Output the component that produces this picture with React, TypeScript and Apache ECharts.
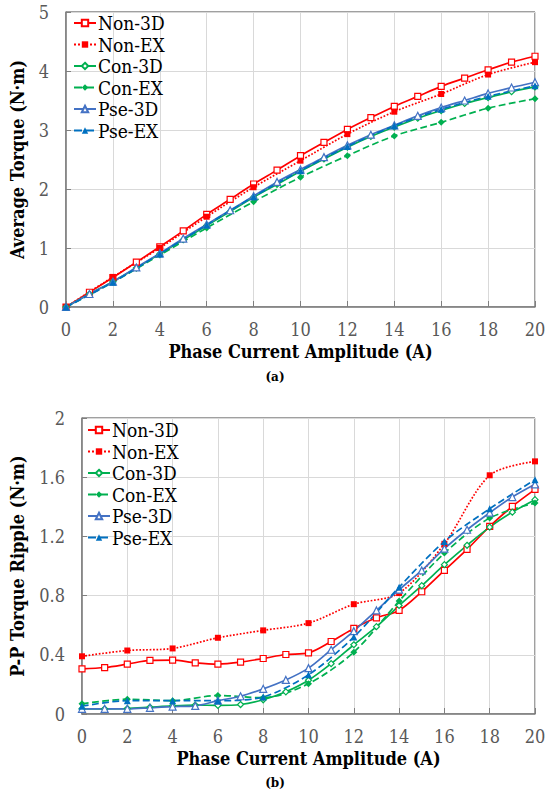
import React, { useEffect, useRef } from "react";
import * as echarts from "echarts";

// ---------- data ----------
const xAll = [0, 1, 2, 3, 4, 5, 6, 7, 8, 9, 10, 11, 12, 13, 14, 15, 16, 17, 18, 19, 20];
const xEven = [0, 2, 4, 6, 8, 10, 12, 14, 16, 18, 20];
const seriesNames = ["Non-3D", "Non-EX", "Con-3D", "Con-EX", "Pse-3D", "Pse-EX"];

// (a) Average torque (N·m)
const avgNon3D = [0, 0.25, 0.5, 0.76, 1.02, 1.29, 1.57, 1.825, 2.085, 2.32, 2.565, 2.79, 3.01, 3.21, 3.40, 3.57, 3.74, 3.88, 4.02, 4.15, 4.25];
const avgNonEX = [0, 0.51, 1.0, 1.53, 2.03, 2.48, 2.93, 3.31, 3.61, 3.94, 4.15];
const avgCon3D = [0, 0.22, 0.43, 0.66, 0.9, 1.14, 1.38, 1.62, 1.86, 2.08, 2.3, 2.51, 2.71, 2.89, 3.05, 3.2, 3.33, 3.45, 3.55, 3.65, 3.73];
const avgConEX = [0, 0.42, 0.88, 1.34, 1.785, 2.2, 2.565, 2.9, 3.13, 3.37, 3.53];
const avgPse3D = [0, 0.22, 0.43, 0.67, 0.91, 1.16, 1.4, 1.64, 1.88, 2.12, 2.33, 2.54, 2.74, 2.92, 3.08, 3.24, 3.38, 3.5, 3.62, 3.72, 3.81];
const avgPseEX = [0, 0.42, 0.9, 1.39, 1.87, 2.31, 2.72, 3.07, 3.35, 3.57, 3.75];

// (b) P-P torque ripple (N·m)
const ripNon3D = [0.305, 0.314, 0.337, 0.362, 0.364, 0.346, 0.337, 0.35, 0.375, 0.402, 0.413, 0.49, 0.578, 0.65, 0.70, 0.826, 0.97, 1.112, 1.268, 1.403, 1.518];
const ripNonEX = [0.39, 0.429, 0.443, 0.515, 0.565, 0.614, 0.742, 0.817, 1.15, 1.613, 1.707];
const ripCon3D = [0.035, 0.035, 0.037, 0.046, 0.055, 0.06, 0.058, 0.064, 0.096, 0.15, 0.228, 0.34, 0.468, 0.59, 0.733, 0.867, 1.009, 1.14, 1.263, 1.364, 1.448];
const ripConEX = [0.069, 0.1, 0.09, 0.125, 0.11, 0.205, 0.418, 0.763, 1.087, 1.324, 1.425];
const ripPse3D = [0.035, 0.035, 0.035, 0.042, 0.05, 0.055, 0.09, 0.12, 0.17, 0.23, 0.31, 0.434, 0.56, 0.70, 0.84, 0.97, 1.117, 1.245, 1.36, 1.466, 1.552];
const ripPseEX = [0.053, 0.09, 0.09, 0.09, 0.115, 0.265, 0.52, 0.857, 1.166, 1.387, 1.583];

const yTicksA = { min: 0, max: 5, interval: 1 };
const yTicksB = { min: 0, max: 2, interval: 0.4 };

// ---------- styles ----------
const RED = "#ff0000";
const GREEN = "#00b050";
const BLUE = "#4472c4";
const BLUE2 = "#0070c0";
const FONT = "DejaVu Serif Condensed";

type Sty = { color: string; type: string; symbol: string; open: boolean; size: number };
const styles: Sty[] = [
  { color: RED, type: "solid", symbol: "rect", open: true, size: 6 },
  { color: RED, type: "dotted", symbol: "rect", open: false, size: 6 },
  { color: GREEN, type: "solid", symbol: "diamond", open: true, size: 6 },
  { color: GREEN, type: "dashed", symbol: "diamond", open: false, size: 7 },
  { color: BLUE, type: "solid", symbol: "triangle", open: true, size: 7 },
  { color: BLUE2, type: "dashed", symbol: "triangle", open: false, size: 7 },
];

function pairs(xs: number[], ys: number[]) {
  return xs.map((x, i) => [x, ys[i]]);
}

function makeSeries(idx: number, datasets: number[][][]) {
  return datasets.map((d, i) => {
    const s = styles[i];
    return {
      name: seriesNames[i],
      type: "line",
      xAxisIndex: idx,
      yAxisIndex: idx,
      data: d,
      smooth: 0.3,
      symbol: s.symbol,
      symbolSize: s.size,
      showSymbol: true,
      lineStyle: { color: s.color, width: 1.7, type: s.type },
      itemStyle: s.open
        ? { color: "#ffffff", borderColor: s.color, borderWidth: 1.2 }
        : { color: s.color, borderColor: s.color, borderWidth: 0 },
      emphasis: { disabled: true },
    };
  });
}

function xAxisCfg(gridIndex: number) {
  return {
    type: "value",
    gridIndex,
    min: 0,
    max: 20,
    interval: 2,
    name: "Phase Current Amplitude (A)",
    nameLocation: "middle",
    nameGap: 35,
    nameTextStyle: { fontFamily: FONT, fontSize: 18, fontWeight: "bold", color: "#000" },
    axisLine: { show: true, onZero: false, lineStyle: { color: "#7f7f7f", width: 1.5 } },
    axisTick: { show: true, inside: true, length: 6, lineStyle: { color: "#7f7f7f" } },
    axisLabel: { fontFamily: FONT, fontSize: 18, color: "#595959", margin: 13 },
    splitLine: { show: true, lineStyle: { color: "#d9d9d9", width: 1 } },
  };
}

function yAxisCfg(gridIndex: number, name: string, t: { min: number; max: number; interval: number }, gap: number) {
  return {
    type: "value",
    gridIndex,
    min: t.min,
    max: t.max,
    interval: t.interval,
    name,
    nameLocation: "middle",
    nameGap: gap,
    nameTextStyle: { fontFamily: FONT, fontSize: 18, fontWeight: "bold", color: "#000" },
    axisLine: { show: true, lineStyle: { color: "#7f7f7f", width: 1.5 } },
    axisTick: { show: true, inside: true, length: 5, lineStyle: { color: "#7f7f7f" } },
    axisLabel: { fontFamily: FONT, fontSize: 18, color: "#595959", margin: 17 },
    splitLine: { show: true, lineStyle: { color: "#d9d9d9", width: 1 } },
  };
}

function legendCfg(left: number, top: number) {
  return {
    data: seriesNames,
    orient: "vertical",
    left,
    top,
    itemWidth: 22,
    itemHeight: 8,
    itemGap: 1.5,
    padding: 0,
    selectedMode: false,
    textStyle: { fontFamily: FONT, fontSize: 19, color: "#000", lineHeight: 20, padding: [0, 0, 0, -3] },
  };
}

export default function App() {
  const ref = useRef<HTMLDivElement>(null);
  useEffect(() => {
    if (!ref.current) return;
    const chart = echarts.init(ref.current, undefined, { renderer: "svg" });
    const seriesA = makeSeries(0, [
      pairs(xAll, avgNon3D),
      pairs(xEven, avgNonEX),
      pairs(xAll, avgCon3D),
      pairs(xEven, avgConEX),
      pairs(xAll, avgPse3D),
      pairs(xEven, avgPseEX),
    ]);
    const seriesB = makeSeries(1, [
      pairs(xAll, ripNon3D),
      pairs(xEven, ripNonEX),
      pairs(xAll, ripCon3D),
      pairs(xEven, ripConEX),
      pairs(xAll, ripPse3D),
      pairs(xEven, ripPseEX),
    ]);
    chart.setOption({
      animation: false,
      backgroundColor: "#ffffff",
      textStyle: { fontFamily: FONT },
      grid: [
        { left: 55, right: 15, top: 12, height: 295, show: true, borderColor: "#404040", borderWidth: 1, backgroundColor: "transparent" },
        { left: 72, right: 15, top: 418, height: 296, show: true, borderColor: "#404040", borderWidth: 1, backgroundColor: "transparent" },
      ],
      xAxis: [xAxisCfg(0), xAxisCfg(1)],
      yAxis: [
        yAxisCfg(0, "Average Torque (N·m)", yTicksA, 40),
        yAxisCfg(1, "P-P Torque Ripple (N·m)", yTicksB, 56),
      ],
      legend: [legendCfg(73, 13), legendCfg(87, 420)],
      graphic: [
        { type: "text", left: "center", top: 371, style: { text: "(a)", fontFamily: "DejaVu Serif", fontSize: 12, fontWeight: "bold", fill: "#000" } },
        { type: "text", left: "center", top: 777, style: { text: "(b)", fontFamily: "DejaVu Serif", fontSize: 12, fontWeight: "bold", fill: "#000" } },
      ],
      series: [...seriesA, ...seriesB],
    });
    return () => chart.dispose();
  }, []);
  return (
    <div
      ref={ref}
      style={{ position: "fixed", left: 0, top: 0, width: 550, height: 794, background: "#fff" }}
    />
  );
}
